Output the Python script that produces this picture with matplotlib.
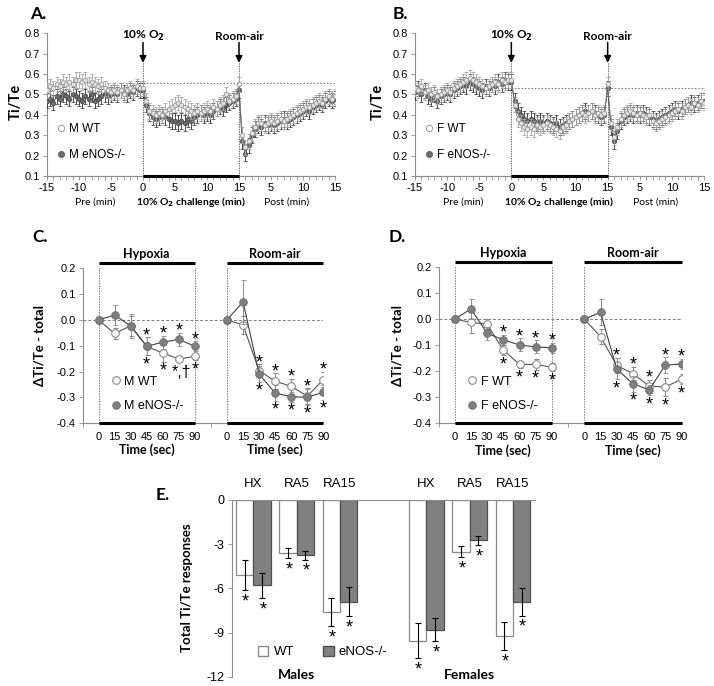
import numpy as np
import matplotlib
matplotlib.use('Agg')
import matplotlib.pyplot as plt
import matplotlib.transforms as mtransforms
from matplotlib.lines import Line2D
from matplotlib.patches import Patch

plt.rcParams['font.family'] = ['Liberation Sans', 'DejaVu Sans']
plt.rcParams['axes.unicode_minus'] = False
CAL = ['Lato', 'DejaVu Sans']

SPINE = '#8c8c8c'
KO_GREY = '#7f7f7f'

# ---------------- A / B : Ti/Te traces (one value every 30 s) ----------------
# x runs pre -15..0, hypoxia 0..15, post 15..30 (post labelled 0..15)
t_min = np.arange(-15, 30.01, 0.5)

a_wt = [0.52, 0.54, 0.53, 0.55, 0.54, 0.56, 0.55, 0.56, 0.55, 0.57,
        0.57, 0.56, 0.57, 0.55, 0.56, 0.55, 0.54, 0.55, 0.53, 0.52,
        0.51, 0.52, 0.51, 0.52, 0.50, 0.52, 0.53, 0.52, 0.54, 0.53,
        0.53, 0.47, 0.42, 0.41, 0.40, 0.41, 0.40, 0.42, 0.43, 0.44,
        0.45, 0.46, 0.45, 0.44, 0.43, 0.42, 0.41, 0.42, 0.41, 0.42,
        0.43, 0.42, 0.44, 0.43, 0.45, 0.46, 0.50, 0.47, 0.48, 0.49,
        0.55, 0.30, 0.24, 0.27, 0.31, 0.34, 0.36, 0.36, 0.35, 0.36,
        0.37, 0.36, 0.37, 0.38, 0.37, 0.38, 0.39, 0.40, 0.41, 0.42,
        0.43, 0.44, 0.44, 0.45, 0.46, 0.47, 0.46, 0.48, 0.49, 0.48,
        0.49]
a_ko = [0.47, 0.48, 0.46, 0.49, 0.48, 0.50, 0.49, 0.48, 0.50, 0.49,
        0.48, 0.47, 0.49, 0.48, 0.50, 0.47, 0.48, 0.49, 0.50, 0.49,
        0.50, 0.51, 0.50, 0.52, 0.51, 0.50, 0.52, 0.51, 0.53, 0.52,
        0.52, 0.45, 0.41, 0.39, 0.38, 0.39, 0.40, 0.39, 0.38, 0.37,
        0.37, 0.36, 0.37, 0.36, 0.38, 0.37, 0.39, 0.40, 0.41, 0.40,
        0.41, 0.40, 0.42, 0.43, 0.44, 0.43, 0.45, 0.46, 0.47, 0.48,
        0.52, 0.27, 0.21, 0.25, 0.30, 0.33, 0.35, 0.34, 0.36, 0.35,
        0.36, 0.35, 0.36, 0.37, 0.38, 0.37, 0.38, 0.39, 0.40, 0.41,
        0.42, 0.43, 0.42, 0.44, 0.45, 0.46, 0.45, 0.47, 0.48, 0.47,
        0.48]
b_wt = [0.53, 0.52, 0.54, 0.51, 0.52, 0.50, 0.51, 0.49, 0.50, 0.51,
        0.52, 0.51, 0.53, 0.54, 0.55, 0.56, 0.57, 0.58, 0.57, 0.56,
        0.55, 0.54, 0.53, 0.54, 0.55, 0.56, 0.55, 0.57, 0.56, 0.57,
        0.57, 0.45, 0.38, 0.36, 0.34, 0.33, 0.34, 0.33, 0.35, 0.34,
        0.35, 0.36, 0.35, 0.34, 0.33, 0.32, 0.34, 0.35, 0.37, 0.38,
        0.39, 0.40, 0.41, 0.40, 0.41, 0.42, 0.40, 0.41, 0.40, 0.41,
        0.55, 0.36, 0.29, 0.34, 0.38, 0.40, 0.41, 0.42, 0.41, 0.40,
        0.41, 0.40, 0.39, 0.40, 0.37, 0.36, 0.37, 0.38, 0.39, 0.40,
        0.41, 0.42, 0.43, 0.42, 0.44, 0.45, 0.44, 0.46, 0.45, 0.47,
        0.46]
b_ko = [0.51, 0.53, 0.50, 0.52, 0.49, 0.48, 0.50, 0.47, 0.49, 0.50,
        0.51, 0.50, 0.52, 0.53, 0.54, 0.55, 0.54, 0.56, 0.55, 0.54,
        0.53, 0.52, 0.54, 0.53, 0.55, 0.54, 0.56, 0.55, 0.57, 0.56,
        0.56, 0.47, 0.42, 0.40, 0.38, 0.37, 0.38, 0.37, 0.36, 0.37,
        0.36, 0.37, 0.36, 0.35, 0.36, 0.34, 0.35, 0.36, 0.37, 0.38,
        0.39, 0.40, 0.41, 0.42, 0.41, 0.42, 0.41, 0.40, 0.39, 0.40,
        0.53, 0.34, 0.27, 0.32, 0.37, 0.39, 0.40, 0.41, 0.40, 0.41,
        0.40, 0.41, 0.40, 0.39, 0.38, 0.37, 0.38, 0.39, 0.40, 0.41,
        0.42, 0.43, 0.42, 0.43, 0.44, 0.45, 0.46, 0.45, 0.46, 0.47,
        0.47]
a_wt_sem, a_ko_sem = 0.038, 0.038
b_wt_sem, b_ko_sem = 0.038, 0.038
a_baseline = 0.555
b_baseline = 0.532

# ---------------- C / D : delta Ti/Te, 15 s bins ----------------
secs = [0, 15, 30, 45, 60, 75, 90]

c_wt_hx = [0, -0.052, -0.023, -0.102, -0.128, -0.151, -0.141]
c_wt_hx_err = [0, 0.022, 0.04, 0.035, 0.035, 0.012, 0.015]
c_ko_hx = [0, 0.019, -0.023, -0.102, -0.086, -0.075, -0.102]
c_ko_hx_err = [0, 0.04, 0.045, 0.035, 0.025, 0.025, 0.02]
c_wt_ra = [0, -0.019, -0.196, -0.237, -0.257, -0.295, -0.231]
c_wt_ra_err = [0, 0.035, 0.025, 0.03, 0.03, 0.03, 0.03]
c_ko_ra = [0, 0.071, -0.209, -0.283, -0.297, -0.299, -0.280]
c_ko_ra_err = [0, 0.085, 0.03, 0.03, 0.02, 0.03, 0.03]
c_top_hx = ['', '', '', '*', '*', '*', '*']
c_bot_hx = ['', '', '', '*', '*', '*,\u2020', '*']
c_top_ra = ['', '', '*', '*', '*', '*', '*']
c_bot_ra = ['', '', '*', '*', '*', '*', '*']

d_wt_hx = [0, -0.013, -0.019, -0.119, -0.174, -0.174, -0.185]
d_wt_hx_err = [0, 0.04, 0.02, 0.02, 0.015, 0.02, 0.015]
d_ko_hx = [0, 0.039, -0.054, -0.080, -0.099, -0.107, -0.110]
d_ko_hx_err = [0, 0.04, 0.025, 0.02, 0.025, 0.025, 0.02]
d_wt_ra = [0, -0.067, -0.178, -0.209, -0.257, -0.261, -0.230]
d_wt_ra_err = [0, 0.03, 0.03, 0.025, 0.025, 0.035, 0.02]
d_ko_ra = [0, 0.026, -0.191, -0.248, -0.272, -0.177, -0.172]
d_ko_ra_err = [0, 0.05, 0.04, 0.03, 0.02, 0.03, 0.02]
d_top_hx = ['', '', '', '*', '*', '*', '*']
d_bot_hx = ['', '', '', '*', '*', '*', '*']
d_top_ra = ['', '', '*', '*', '*', '*', '*']
d_bot_ra = ['', '', '*', '*', '*', '*', '*']

# ---------------- E : total responses ----------------
e_groups = ['HX', 'RA5', 'RA15']
e_male_wt = [-5.1, -3.6, -7.6]
e_male_wt_err = [1.0, 0.37, 0.95]
e_male_ko = [-5.8, -3.75, -6.9]
e_male_ko_err = [0.85, 0.3, 1.0]
e_female_wt = [-9.55, -3.5, -9.25]
e_female_wt_err = [1.2, 0.38, 0.95]
e_female_ko = [-8.8, -2.75, -6.9]
e_female_ko_err = [0.8, 0.3, 0.95]

W, H = 714, 686
fig = plt.figure(figsize=(W / 100, H / 100), dpi=100)


def px_axes(left, top, right, bottom):
    return fig.add_axes([left / W, 1 - bottom / H, (right - left) / W, (bottom - top) / H])


def fig_text(x, y, s, **kw):
    fig.text(x / W, 1 - y / H, s, **kw)


def style_spines(ax):
    for side in ['top', 'right']:
        ax.spines[side].set_visible(False)
    for side in ['left', 'bottom']:
        ax.spines[side].set_color(SPINE)
        ax.spines[side].set_linewidth(0.8)


def trace_panel(ax, wt, wt_sem, ko, ko_sem, base, sex):
    ax.errorbar(t_min, ko, yerr=ko_sem, fmt='-o', color='#2a2a2a', lw=0.6, ms=3.3,
                mfc='#6a6a6a', mec='#4a4a4a', mew=0.5, ecolor='#2e2e2e',
                elinewidth=0.6, capsize=1.4, capthick=0.6, zorder=3)
    ax.errorbar(t_min, wt, yerr=wt_sem, fmt='-o', color='#7a7a7a', lw=0.6, ms=3.3,
                mfc='#e4e4e4', mec='#9a9a9a', mew=0.6, ecolor='#a6a6a6',
                elinewidth=0.6, capsize=1.4, capthick=0.6, zorder=4)
    ax.set_xlim(-15, 30)
    ax.set_ylim(0.1, 0.8)
    style_spines(ax)
    ax.hlines(base, 0, 30, colors='#808080', linestyles=(0, (1.5, 1.5)), lw=0.8, zorder=2)
    ax.vlines([0, 15], 0.1, 0.66, colors='#707070', linestyles=(0, (1.5, 1)), lw=0.7, zorder=2)
    ax.hlines(0.1, 0, 15, colors='black', lw=2.2, clip_on=False, zorder=6)
    for x, lab in [(0, r'10% O$_\mathbf{2}$'), (15, 'Room-air')]:
        ax.annotate('', xy=(x, 0.655), xytext=(x, 0.755),
                    arrowprops=dict(arrowstyle='-|>,head_width=0.2,head_length=0.4',
                                    color='black', lw=1.1, shrinkA=0, shrinkB=0))
        ax.text(x, 0.785, lab, ha='center', va='center', fontsize=8.5,
                fontweight='bold', family=CAL)
    major = [-15, -10, -5, 0, 5, 10, 15, 20, 25, 30]
    ax.set_xticks(major)
    ax.set_xticklabels(['-15', '-10', '-5', '0', '5', '10', '15', '5', '10', '15'])
    ax.set_xticks(np.arange(-15, 31, 1), minor=True)
    ax.set_yticks(np.arange(0.1, 0.81, 0.1))
    ax.set_yticklabels(['%.1f' % v for v in np.arange(0.1, 0.81, 0.1)])
    ax.tick_params(which='both', direction='out', length=3, width=0.6, color=SPINE,
                   labelsize=8, pad=2)
    tr = mtransforms.blended_transform_factory(ax.transData, ax.transAxes)
    ax.text(-7.5, -0.18, 'Pre (min)', transform=tr, ha='center', va='center',
            fontsize=7.5, family=CAL)
    ax.text(7.5, -0.18, r'10% O$_\mathbf{2}$ challenge (min)', transform=tr, ha='center',
            va='center', fontsize=7.5, fontweight='bold', family=CAL)
    ax.text(22.5, -0.18, 'Post (min)', transform=tr, ha='center', va='center',
            fontsize=7.5, family=CAL)
    handles = [Line2D([], [], ls='', marker='o', ms=4.5, mfc='white', mec='#999999', mew=0.7),
               Line2D([], [], ls='', marker='o', ms=4.5, mfc='#6e6e6e', mec='#555555', mew=0.5)]
    ax.legend(handles, [sex + ' WT', sex + ' eNOS-/-'], loc='lower left',
              bbox_to_anchor=(-0.005, 0.03), frameon=False, fontsize=8.5,
              handlelength=0.8, handletextpad=0.3, labelspacing=1.2)


def delta_panel(ax, blocks, sex):
    ax.set_xlim(-1, 14)
    ax.set_ylim(-0.4, 0.2)
    style_spines(ax)
    top_line = 0.219
    ax.axhline(0, color='#808080', ls=(0, (3, 2)), lw=0.7, zorder=1)
    ax.vlines([0, 6, 8, 14], -0.4, top_line, colors='#808080', linestyles=(0, (1.5, 1.2)),
              lw=0.7, zorder=1)
    ax.hlines([-0.4, -0.4], [0, 8], [6, 14], colors='black', lw=2.2, clip_on=False, zorder=6)
    ax.hlines([top_line, top_line], [0, 8], [6, 14], colors='black', lw=2.2, clip_on=False)
    ticks, labels = [], []
    for off, title, wt, wt_err, ko, ko_err, top, bot in blocks:
        pos = off + np.arange(len(secs))
        ax.errorbar(pos, wt, yerr=wt_err, fmt='-o', color='#555555', lw=0.8, ms=5.5,
                    mfc='white', mec='#8a8a8a', mew=0.8, ecolor='#8a8a8a',
                    elinewidth=0.7, capsize=1.8, capthick=0.7, zorder=3)
        ax.errorbar(pos, ko, yerr=ko_err, fmt='-o', color='#404040', lw=0.8, ms=5.5,
                    mfc=KO_GREY, mec='#6a6a6a', mew=0.6, ecolor='#8a8a8a',
                    elinewidth=0.7, capsize=1.8, capthick=0.7, zorder=4)
        for p, w, we, k, ke, st, sb in zip(pos, wt, wt_err, ko, ko_err, top, bot):
            if st:
                ax.text(p, max(w + we, k + ke) + 0.006, st, ha='center', va='center', fontsize=13)
            if sb == '*':
                ax.text(p, min(w - we, k - ke) - 0.036, sb, ha='center', va='center', fontsize=13)
            elif sb:
                # longer mark (e.g. "*,\u2020") starts just left of its point
                ax.text(p - 0.45, min(w - we, k - ke) - 0.04, sb, ha='left', va='center',
                        fontsize=11.5)
        ax.text(off + 3, 0.254, title, ha='center', va='center', fontsize=9,
                fontweight='bold', family=CAL)
        tr = mtransforms.blended_transform_factory(ax.transData, ax.transAxes)
        ax.text(off + 3, -0.172, 'Time (sec)', transform=tr, ha='center', va='center',
                fontsize=9, fontweight='bold', family=CAL)
        ticks += list(pos)
        labels += [str(s) for s in secs]
    ax.set_xticks(ticks)
    ax.set_xticklabels(labels)
    ax.set_xticks(np.arange(-1, 15), minor=True)
    ax.set_yticks(np.arange(-0.4, 0.21, 0.1))
    ax.set_yticklabels(['%.1f' % (v + 0.0) for v in np.round(np.arange(-0.4, 0.21, 0.1), 1)])
    ax.tick_params(which='both', direction='out', length=3, width=0.6, color=SPINE,
                   labelsize=8, pad=2)
    ax.tick_params(axis='x', which='major', length=0, pad=6)
    handles = [Line2D([], [], ls='', marker='o', ms=5.5, mfc='white', mec='#8a8a8a', mew=0.8),
               Line2D([], [], ls='', marker='o', ms=5.5, mfc=KO_GREY, mec='#6a6a6a', mew=0.6)]
    ax.legend(handles, [sex + ' WT', sex + ' eNOS-/-'], loc='lower left',
              bbox_to_anchor=(0.07, 0.0), frameon=False, fontsize=9,
              handlelength=0.8, handletextpad=0.3, labelspacing=1.0)


# ---- A ----
ax_a = px_axes(47, 33.3, 335, 176)
trace_panel(ax_a, a_wt, a_wt_sem, a_ko, a_ko_sem, a_baseline, 'M')
fig_text(38, 14, 'A.', ha='center', va='center', fontsize=12.5, fontweight='bold', family=CAL)
fig_text(16, 102, 'Ti/Te', ha='center', va='center', rotation=90, fontsize=10.5,
         fontweight='bold', family=CAL)

# ---- B ----
ax_b = px_axes(415, 33.3, 704, 176)
trace_panel(ax_b, b_wt, b_wt_sem, b_ko, b_ko_sem, b_baseline, 'F')
fig_text(400, 14, 'B.', ha='center', va='center', fontsize=12.5, fontweight='bold', family=CAL)
fig_text(378, 102, 'Ti/Te', ha='center', va='center', rotation=90, fontsize=10.5,
         fontweight='bold', family=CAL)

# ---- C ----
ax_c = px_axes(82.5, 268.3, 323.3, 423.3)
delta_panel(ax_c, [(0, 'Hypoxia', c_wt_hx, c_wt_hx_err, c_ko_hx, c_ko_hx_err, c_top_hx, c_bot_hx),
                   (8, 'Room-air', c_wt_ra, c_wt_ra_err, c_ko_ra, c_ko_ra_err, c_top_ra, c_bot_ra)],
            'M')
fig_text(40, 237, 'C.', ha='center', va='center', fontsize=12.5, fontweight='bold', family=CAL)
fig_text(40, 346, '\u0394Ti/Te - total', ha='center', va='center', rotation=90, fontsize=9.5,
         fontweight='bold', family=CAL)

# ---- D ----
ax_d = px_axes(438.5, 267, 681.5, 423.3)
delta_panel(ax_d, [(0, 'Hypoxia', d_wt_hx, d_wt_hx_err, d_ko_hx, d_ko_hx_err, d_top_hx, d_bot_hx),
                   (8, 'Room-air', d_wt_ra, d_wt_ra_err, d_ko_ra, d_ko_ra_err, d_top_ra, d_bot_ra)],
            'F')
fig_text(397, 237, 'D.', ha='center', va='center', fontsize=12.5, fontweight='bold', family=CAL)
fig_text(397, 346, '\u0394Ti/Te - total', ha='center', va='center', rotation=90, fontsize=9.5,
         fontweight='bold', family=CAL)

# ---- E ----
ax_e = px_axes(231.7, 500, 534.7, 676.7)
bw = 0.4
for base, wt, wt_err, ko, ko_err in [(0, e_male_wt, e_male_wt_err, e_male_ko, e_male_ko_err),
                                     (4, e_female_wt, e_female_wt_err, e_female_ko, e_female_ko_err)]:
    pos = base + np.arange(len(e_groups))
    ax_e.bar(pos - bw / 2, wt, width=bw, color='white', edgecolor='#8a8a8a', lw=0.9, zorder=2)
    ax_e.bar(pos + bw / 2, ko, width=bw, color='#808080', edgecolor='#505050', lw=0.9, zorder=2)
    ax_e.errorbar(pos - bw / 2, wt, yerr=wt_err, fmt='none', ecolor='black', elinewidth=0.8,
                  capsize=2.2, capthick=0.8, zorder=3)
    ax_e.errorbar(pos + bw / 2, ko, yerr=ko_err, fmt='none', ecolor='black', elinewidth=0.8,
                  capsize=2.2, capthick=0.8, zorder=3)
    for p, v, e in zip(pos - bw / 2, wt, wt_err):
        ax_e.text(p + 0.02, v - e - 0.8, '*', ha='center', va='center', fontsize=13)
    for p, v, e in zip(pos + bw / 2, ko, ko_err):
        ax_e.text(p + 0.02, v - e - 0.8, '*', ha='center', va='center', fontsize=13)
    tr = mtransforms.blended_transform_factory(ax_e.transData, ax_e.transAxes)
    for p, g in zip(pos, e_groups):
        ax_e.text(p, 1.09, g, transform=tr, ha='center', va='center', fontsize=9.5)
ax_e.set_xlim(-0.5, 6.5)
ax_e.set_ylim(-12, 0)
for side in ['bottom', 'right']:
    ax_e.spines[side].set_visible(False)
for side in ['left', 'top']:
    ax_e.spines[side].set_color(SPINE)
    ax_e.spines[side].set_linewidth(0.8)
ax_e.set_xticks([])
ax_e.set_yticks([0, -3, -6, -9, -12])
ax_e.set_yticklabels(['0', '-3', '-6', '-9', '-12'])
ax_e.tick_params(axis='y', direction='out', length=3, width=0.6, color=SPINE, labelsize=9, pad=2)
tr = mtransforms.blended_transform_factory(ax_e.transData, ax_e.transAxes)
ax_e.text(1, 0.01, 'Males', transform=tr, ha='center', va='center', fontsize=10,
          fontweight='bold', family=CAL)
ax_e.text(5, 0.01, 'Females', transform=tr, ha='center', va='center', fontsize=10,
          fontweight='bold', family=CAL)
ax_e.legend([Patch(facecolor='white', edgecolor='#8a8a8a'),
             Patch(facecolor='#808080', edgecolor='#505050')], ['WT', 'eNOS-/-'],
            ncol=2, loc='center', bbox_to_anchor=(0.3, 0.14), frameon=False, fontsize=9.5,
            handlelength=0.8, handleheight=0.8, handletextpad=0.4, columnspacing=2.2)
fig_text(163, 495, 'E.', ha='center', va='center', fontsize=12.5, fontweight='bold', family=CAL)
fig_text(187, 588, 'Total Ti/Te responses', ha='center', va='center', rotation=90, fontsize=9.5,
         fontweight='bold', family=CAL)

fig.savefig('out.png', dpi=100)
